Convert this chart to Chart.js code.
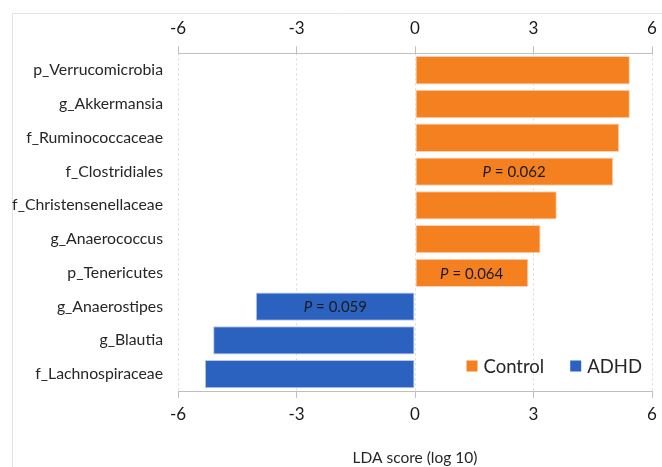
<!DOCTYPE html>
<html>
<head>
<meta charset="utf-8">
<script src="https://cdn.jsdelivr.net/npm/chart.js@4"></script>
<style>
html,body{margin:0;padding:0;background:#fff;}
#wrap{width:662px;height:467px;position:relative;}
</style>
</head>
<body>
<div id="wrap"><canvas id="c" width="662" height="467"></canvas></div>
<script>
const categories = ["p_Verrucomicrobia","g_Akkermansia","f_Ruminococcaceae","f_Clostridiales","f_Christensenellaceae","g_Anaerococcus","p_Tenericutes","g_Anaerostipes","g_Blautia","f_Lachnospiraceae"];
const controlValues = [5.44, 5.44, 5.17, 5.02, 3.59, 3.18, 2.87, null, null, null];
const adhdValues = [null, null, null, null, null, null, null, -4.03, -5.11, -5.32];
const pLabels = [null, null, null, "0.062", null, null, "0.064", "0.059", null, null];
const xTicks = [-6, -3, 0, 3, 6];
const seriesNames = ["Control", "ADHD"];
const colors = ["#F5801F", "#2B62C0"];

const FONT = "Lato, 'Open Sans', sans-serif";

const framePlugin = {
  id: 'frame',
  beforeDraw(chart) {
    const ctx = chart.ctx;
    ctx.save();
    ctx.strokeStyle = '#E3E3E3';
    ctx.lineWidth = 1;
    ctx.beginPath();
    ctx.moveTo(12.5, 467);
    ctx.lineTo(12.5, 13.5);
    ctx.lineTo(662, 13.5);
    ctx.stroke();
    ctx.restore();
  }
};

const pLabelPlugin = {
  id: 'plabels',
  afterDatasetsDraw(chart) {
    const ctx = chart.ctx;
    const xs = chart.scales.x, ys = chart.scales.y;
    ctx.save();
    ctx.fillStyle = '#1a1a1a';
    ctx.textBaseline = 'middle';
    pLabels.forEach((lab, i) => {
      if (!lab) return;
      const v = controlValues[i] != null ? controlValues[i] : adhdValues[i];
      const cx = (xs.getPixelForValue(0) + xs.getPixelForValue(v)) / 2;
      const cy = ys.getPixelForValue(i);
      const a = 'P', b = ' = ' + lab;
      ctx.font = 'italic 15px ' + FONT;
      const wa = ctx.measureText(a).width;
      ctx.font = '15px ' + FONT;
      const wb = ctx.measureText(b).width;
      let x0 = cx - (wa + wb) / 2;
      ctx.textAlign = 'left';
      ctx.font = 'italic 15px ' + FONT;
      ctx.fillText(a, x0, cy + 1);
      ctx.font = '15px ' + FONT;
      ctx.fillText(b, x0 + wa, cy + 1);
    });
    ctx.restore();
  }
};

const legendPlugin = {
  id: 'customLegend',
  afterDraw(chart) {
    const ctx = chart.ctx;
    const area = chart.chartArea;
    ctx.save();
    ctx.font = '18.5px ' + FONT;
    ctx.textBaseline = 'middle';
    const cy = area.bottom - 25;
    const box = 11, gap = 6, itemGap = 26;
    const ds = chart.data.datasets;
    let widths = ds.map(d => box + gap + ctx.measureText(d.label).width);
    let total = widths.reduce((a, b) => a + b, 0) + itemGap * (ds.length - 1);
    let x = area.right - 10 - total;
    ds.forEach((d, i) => {
      ctx.fillStyle = d.backgroundColor;
      ctx.fillRect(x, cy - box / 2, box, box);
      ctx.fillStyle = '#262626';
      ctx.textAlign = 'left';
      ctx.fillText(d.label, x + box + gap, cy + 1);
      x += widths[i] + itemGap;
    });
    ctx.restore();
  }
};

const xCommon = {
  type: 'linear',
  min: -6,
  max: 6,
  afterBuildTicks(scale) { scale.ticks = xTicks.map(v => ({ value: v })); },
  afterFit(scale) { scale.paddingRight = 0; scale.paddingLeft = 0; },
  border: { display: true, color: '#BFBFBF', width: 1, dash: [2, 3] },
};

new Chart(document.getElementById('c'), {
  type: 'bar',
  data: {
    labels: categories,
    datasets: [
      { label: seriesNames[0], data: controlValues, backgroundColor: colors[0], borderColor: '#FBD3B4', borderWidth: 1, borderSkipped: false, barPercentage: 0.84, categoryPercentage: 1, xAxisID: 'x' },
      { label: seriesNames[1], data: adhdValues, backgroundColor: colors[1], borderColor: '#B6C8EC', borderWidth: 1, borderSkipped: false, barPercentage: 0.84, categoryPercentage: 1, xAxisID: 'x' }
    ]
  },
  options: {
    indexAxis: 'y',
    responsive: false,
    animation: false,
    layout: { padding: { left: 0, right: 10, top: 10, bottom: 0 } },
    plugins: { legend: { display: false }, tooltip: { enabled: false } },
    scales: {
      x: Object.assign({}, xCommon, {
        position: 'bottom',
        stacked: true,
        grid: { display: true, drawOnChartArea: true, color: '#D9D9D9', tickColor: '#BFBFBF', tickLength: 7, tickBorderDash: [] },
        ticks: { color: '#1a1a1a', font: { family: FONT, size: 17 }, padding: 6 },
        title: { display: true, text: 'LDA score (log 10)', color: '#262626', font: { family: FONT, size: 15.5 }, padding: { top: 18, bottom: 0 } }
      }),
      x2: Object.assign({}, xCommon, {
        position: 'top',
        grid: { display: true, drawOnChartArea: false, color: '#D9D9D9', tickColor: '#BFBFBF', tickLength: 7, tickBorderDash: [] },
        ticks: { color: '#1a1a1a', font: { family: FONT, size: 17 }, padding: 8 }
      }),
      y: {
        stacked: true,
        grid: { display: false },
        border: { display: false },
        afterFit(scale) { scale.width = 178; },
        ticks: { color: '#262626', font: { family: FONT, size: 15.8 }, padding: 7 }
      }
    }
  },
  plugins: [framePlugin, pLabelPlugin, legendPlugin]
});
</script>
</body>
</html>
